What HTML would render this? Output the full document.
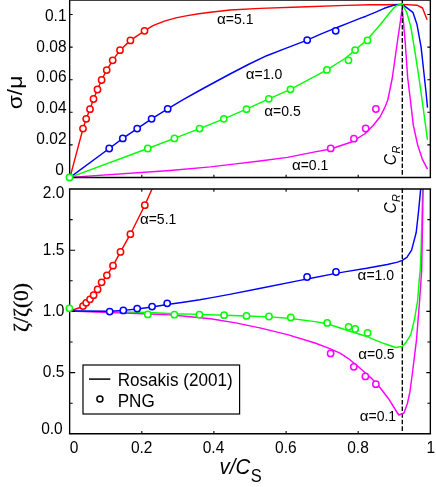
<!DOCTYPE html>
<html><head><meta charset="utf-8"><title>chart</title>
<style>html,body{margin:0;padding:0;background:#fff;}svg{display:block;will-change:transform;}</style></head>
<body>
<svg width="436" height="487" viewBox="0 0 436 487" font-family="'Liberation Sans', sans-serif" fill="#000">
<rect x="0" y="0" width="436" height="487" fill="#fff"/>
<defs><clipPath id="c1"><rect x="69.65" y="0.6" width="360.70000000000005" height="182.9"/></clipPath><clipPath id="c2"><rect x="69.65" y="188.95" width="360.70000000000005" height="244.90000000000003"/></clipPath></defs>
<g clip-path="url(#c1)">
<polyline points="70.0,177.4 170.0,170.5 210.5,166.9 235.7,163.9 260.0,161.0 287.5,157.4 315.0,151.9 330.7,149.0 350.8,142.3 364.6,134.0 372.9,125.8 380.0,117.0 385.0,107.1 387.8,100.0 392.3,78.0 397.5,41.0 400.5,20.5 402.2,8.0 405.1,41.0 407.7,78.0 410.4,100.0 413.3,125.2 417.8,145.5 422.3,159.1 427.5,169.2" fill="none" stroke="#ff00ff" stroke-width="1.45" stroke-linejoin="round"/>
<polyline points="70.0,177.4 83.0,128.6 86.2,118.8 90.0,109.2 93.5,99.0 97.5,89.5 101.6,80.0 106.7,70.1 112.7,60.3 120.0,50.2 130.4,40.4 144.5,30.8 152.9,25.7 164.4,21.1 175.9,17.9 187.3,15.6 198.8,13.8 210.3,12.2 230.0,10.0 260.0,8.4 300.0,7.0 346.0,5.4 370.0,4.8 386.0,4.8 402.3,4.4 417.0,5.2 422.5,8.0 427.1,19.7" fill="none" stroke="#ff0000" stroke-width="1.45" stroke-linejoin="round"/>
<polyline points="70.0,177.4 109.2,148.5 122.8,138.4 137.2,128.6 151.6,118.8 167.7,108.9 182.7,99.9 200.4,90.0 210.5,84.5 230.0,74.0 248.3,64.5 266.7,55.7 285.0,48.6 307.2,40.1 320.0,34.3 329.2,30.6 338.3,27.0 347.5,23.3 360.0,18.4 366.0,16.2 375.2,12.4 384.3,8.3 393.5,5.3 402.3,4.3 412.9,12.3 417.0,24.6 421.1,47.2 423.6,70.0 426.0,92.0 427.5,107.6" fill="none" stroke="#0000ff" stroke-width="1.45" stroke-linejoin="round"/>
<polyline points="70.0,177.4 147.8,148.5 174.4,138.4 199.6,128.6 223.8,118.8 246.5,109.2 268.8,98.8 290.5,89.3 326.9,69.9 345.0,58.5 355.1,50.1 367.6,39.3 370.6,35.8 379.8,25.2 388.9,13.8 394.4,7.3 397.7,5.0 402.3,4.4 406.7,12.3 410.8,26.7 414.9,51.3 419.0,78.0 422.1,100.0 427.5,139.9" fill="none" stroke="#00ff00" stroke-width="1.45" stroke-linejoin="round"/>
</g>
<line x1="402.3" y1="-1.5" x2="402.3" y2="174.8" stroke="#000" stroke-width="1.35" stroke-dasharray="4.6 2.0"/>
<line x1="402.3" y1="188.4" x2="402.3" y2="433.85" stroke="#000" stroke-width="1.35" stroke-dasharray="4.55 2.06"/>
<g clip-path="url(#c2)">
<polyline points="70.0,311.0 147.8,312.5 174.4,313.8 199.4,314.4 224.0,315.2 246.5,316.0 270.0,316.9 290.8,318.5 315.0,321.6 327.2,323.7 350.0,331.2 367.6,336.7 371.0,338.3 384.8,343.8 395.8,347.5 402.2,346.4 406.3,341.9 410.8,334.7 414.5,319.3 417.6,300.8 419.2,280.3 420.2,270.0 421.1,250.0 422.7,188.8" fill="none" stroke="#00ff00" stroke-width="1.45" stroke-linejoin="round"/>
<polyline points="70.0,311.0 170.0,314.9 185.2,316.2 210.5,318.7 235.7,322.9 260.9,328.1 287.5,334.6 315.0,343.0 329.8,348.6 340.0,353.2 348.0,358.3 356.1,364.8 364.1,371.7 372.1,378.9 380.1,387.7 388.2,398.2 396.2,411.0 398.8,415.0 404.0,413.0 407.4,403.5 409.9,392.0 411.5,380.0 412.8,370.0 416.5,339.8 419.6,300.8 421.7,270.0 423.1,188.8" fill="none" stroke="#ff00ff" stroke-width="1.45" stroke-linejoin="round"/>
<polyline points="70.0,311.0 109.7,311.3 123.3,310.4 137.2,309.0 152.1,307.0 167.2,304.5 185.2,302.0 199.8,299.8 210.5,297.9 229.6,294.4 259.4,288.5 300.0,280.4 307.1,279.0 336.0,273.4 346.0,271.6 366.6,268.3 387.3,264.5 397.6,262.1 402.2,260.4 406.9,257.3 411.6,250.1 416.2,232.5 418.7,209.8 420.7,188.8" fill="none" stroke="#0000ff" stroke-width="1.45" stroke-linejoin="round"/>
<polyline points="70.0,311.0 83.0,306.5 86.2,303.2 90.0,299.7 93.6,295.6 97.6,289.8 101.6,282.6 106.9,275.3 113.0,265.7 120.5,251.9 130.4,234.2 144.8,205.2 152.1,188.8" fill="none" stroke="#ff0000" stroke-width="1.45" stroke-linejoin="round"/>
</g>
<path d="M69.65 177.5H430.35M69.65 188.95H430.35M69.65 433.85H430.35" stroke="#000" stroke-width="1.5" fill="none" stroke-linecap="square"/>
<path d="M69.65 0.2H430.35" stroke="#000" stroke-width="1.2" fill="none" stroke-linecap="square"/>
<path d="M69.65 0V177.5M430.35 0V177.5M69.65 188.95V433.85M430.35 188.95V433.85" stroke="#000" stroke-width="1.35" fill="none"/>
<path d="M141.8 177.5v-2.8 M141.8 188.95v2.8 M141.8 433.85v-2.8 M213.9 177.5v-2.8 M213.9 188.95v2.8 M213.9 433.85v-2.8 M286.1 177.5v-2.8 M286.1 188.95v2.8 M286.1 433.85v-2.8 M358.2 177.5v-2.8 M358.2 188.95v2.8 M358.2 433.85v-2.8 M69.65 144.9h3 M430.35 144.9h-3 M69.65 112.3h3 M430.35 112.3h-3 M69.65 79.7h3 M430.35 79.7h-3 M69.65 47.1h3 M430.35 47.1h-3 M69.65 14.5h3 M430.35 14.5h-3 M69.65 403.2h3 M430.35 403.2h-3 M69.65 372.6h5.5 M430.35 372.6h-4 M69.65 342.0h3 M430.35 342.0h-3 M69.65 311.4h5.5 M430.35 311.4h-4 M69.65 280.8h3 M430.35 280.8h-3 M69.65 250.2h5.5 M430.35 250.2h-4 M69.65 219.6h3 M430.35 219.6h-3" stroke="#000" stroke-width="1.1" fill="none"/>
<circle cx="83.0" cy="128.6" r="3.15" fill="#fff" stroke="#ff0000" stroke-width="1.5"/><circle cx="86.2" cy="118.8" r="3.15" fill="#fff" stroke="#ff0000" stroke-width="1.5"/><circle cx="90.0" cy="109.2" r="3.15" fill="#fff" stroke="#ff0000" stroke-width="1.5"/><circle cx="93.5" cy="99.0" r="3.15" fill="#fff" stroke="#ff0000" stroke-width="1.5"/><circle cx="97.5" cy="89.5" r="3.15" fill="#fff" stroke="#ff0000" stroke-width="1.5"/><circle cx="101.6" cy="80.0" r="3.15" fill="#fff" stroke="#ff0000" stroke-width="1.5"/><circle cx="106.7" cy="70.1" r="3.15" fill="#fff" stroke="#ff0000" stroke-width="1.5"/><circle cx="112.7" cy="60.3" r="3.15" fill="#fff" stroke="#ff0000" stroke-width="1.5"/><circle cx="120.0" cy="50.2" r="3.15" fill="#fff" stroke="#ff0000" stroke-width="1.5"/><circle cx="130.4" cy="40.4" r="3.15" fill="#fff" stroke="#ff0000" stroke-width="1.5"/><circle cx="144.5" cy="30.8" r="3.15" fill="#fff" stroke="#ff0000" stroke-width="1.5"/>
<circle cx="109.2" cy="148.5" r="3.15" fill="#fff" stroke="#0000ff" stroke-width="1.5"/><circle cx="122.8" cy="138.4" r="3.15" fill="#fff" stroke="#0000ff" stroke-width="1.5"/><circle cx="137.2" cy="128.6" r="3.15" fill="#fff" stroke="#0000ff" stroke-width="1.5"/><circle cx="151.6" cy="118.8" r="3.15" fill="#fff" stroke="#0000ff" stroke-width="1.5"/><circle cx="167.7" cy="108.9" r="3.15" fill="#fff" stroke="#0000ff" stroke-width="1.5"/><circle cx="307.2" cy="40.1" r="3.15" fill="#fff" stroke="#0000ff" stroke-width="1.5"/><circle cx="335.7" cy="30.8" r="3.15" fill="#fff" stroke="#0000ff" stroke-width="1.5"/>
<circle cx="147.8" cy="148.5" r="3.15" fill="#fff" stroke="#00ff00" stroke-width="1.5"/><circle cx="174.4" cy="138.4" r="3.15" fill="#fff" stroke="#00ff00" stroke-width="1.5"/><circle cx="199.6" cy="128.6" r="3.15" fill="#fff" stroke="#00ff00" stroke-width="1.5"/><circle cx="223.8" cy="118.8" r="3.15" fill="#fff" stroke="#00ff00" stroke-width="1.5"/><circle cx="246.5" cy="109.2" r="3.15" fill="#fff" stroke="#00ff00" stroke-width="1.5"/><circle cx="268.8" cy="98.8" r="3.15" fill="#fff" stroke="#00ff00" stroke-width="1.5"/><circle cx="290.5" cy="89.3" r="3.15" fill="#fff" stroke="#00ff00" stroke-width="1.5"/><circle cx="326.9" cy="69.9" r="3.15" fill="#fff" stroke="#00ff00" stroke-width="1.5"/><circle cx="348.5" cy="60.3" r="3.15" fill="#fff" stroke="#00ff00" stroke-width="1.5"/><circle cx="355.1" cy="50.1" r="3.15" fill="#fff" stroke="#00ff00" stroke-width="1.5"/><circle cx="367.5" cy="40.4" r="3.15" fill="#fff" stroke="#00ff00" stroke-width="1.5"/>
<circle cx="330.7" cy="148.4" r="3.15" fill="#fff" stroke="#ff00ff" stroke-width="1.5"/><circle cx="353.9" cy="138.7" r="3.15" fill="#fff" stroke="#ff00ff" stroke-width="1.5"/><circle cx="365.7" cy="128.5" r="3.15" fill="#fff" stroke="#ff00ff" stroke-width="1.5"/><circle cx="375.9" cy="109.0" r="3.15" fill="#fff" stroke="#ff00ff" stroke-width="1.5"/>
<circle cx="69.5" cy="177.4" r="3.15" fill="#fff" stroke="#00ff00" stroke-width="1.5"/>
<circle cx="330.6" cy="353.4" r="3.15" fill="#fff" stroke="#ff00ff" stroke-width="1.5"/><circle cx="353.8" cy="366.8" r="3.15" fill="#fff" stroke="#ff00ff" stroke-width="1.5"/><circle cx="365.4" cy="376.4" r="3.15" fill="#fff" stroke="#ff00ff" stroke-width="1.5"/><circle cx="375.9" cy="384.2" r="3.15" fill="#fff" stroke="#ff00ff" stroke-width="1.5"/>
<circle cx="147.8" cy="314.4" r="3.15" fill="#fff" stroke="#00ff00" stroke-width="1.5"/><circle cx="174.4" cy="314.7" r="3.15" fill="#fff" stroke="#00ff00" stroke-width="1.5"/><circle cx="199.4" cy="314.7" r="3.15" fill="#fff" stroke="#00ff00" stroke-width="1.5"/><circle cx="224.1" cy="315.2" r="3.15" fill="#fff" stroke="#00ff00" stroke-width="1.5"/><circle cx="246.5" cy="315.9" r="3.15" fill="#fff" stroke="#00ff00" stroke-width="1.5"/><circle cx="269.0" cy="316.5" r="3.15" fill="#fff" stroke="#00ff00" stroke-width="1.5"/><circle cx="290.8" cy="317.4" r="3.15" fill="#fff" stroke="#00ff00" stroke-width="1.5"/><circle cx="327.2" cy="322.9" r="3.15" fill="#fff" stroke="#00ff00" stroke-width="1.5"/><circle cx="348.6" cy="326.8" r="3.15" fill="#fff" stroke="#00ff00" stroke-width="1.5"/><circle cx="355.2" cy="329.0" r="3.15" fill="#fff" stroke="#00ff00" stroke-width="1.5"/><circle cx="367.6" cy="332.9" r="3.15" fill="#fff" stroke="#00ff00" stroke-width="1.5"/>
<circle cx="109.7" cy="311.6" r="3.15" fill="#fff" stroke="#0000ff" stroke-width="1.5"/><circle cx="123.3" cy="310.4" r="3.15" fill="#fff" stroke="#0000ff" stroke-width="1.5"/><circle cx="137.2" cy="308.6" r="3.15" fill="#fff" stroke="#0000ff" stroke-width="1.5"/><circle cx="152.1" cy="306.6" r="3.15" fill="#fff" stroke="#0000ff" stroke-width="1.5"/><circle cx="167.2" cy="303.3" r="3.15" fill="#fff" stroke="#0000ff" stroke-width="1.5"/><circle cx="307.1" cy="277.0" r="3.15" fill="#fff" stroke="#0000ff" stroke-width="1.5"/><circle cx="336.0" cy="272.0" r="3.15" fill="#fff" stroke="#0000ff" stroke-width="1.5"/>
<circle cx="83.0" cy="306.1" r="3.15" fill="#fff" stroke="#ff0000" stroke-width="1.5"/><circle cx="86.2" cy="302.8" r="3.15" fill="#fff" stroke="#ff0000" stroke-width="1.5"/><circle cx="90.0" cy="299.3" r="3.15" fill="#fff" stroke="#ff0000" stroke-width="1.5"/><circle cx="93.6" cy="295.2" r="3.15" fill="#fff" stroke="#ff0000" stroke-width="1.5"/><circle cx="97.6" cy="289.4" r="3.15" fill="#fff" stroke="#ff0000" stroke-width="1.5"/><circle cx="101.6" cy="282.3" r="3.15" fill="#fff" stroke="#ff0000" stroke-width="1.5"/><circle cx="106.9" cy="275.3" r="3.15" fill="#fff" stroke="#ff0000" stroke-width="1.5"/><circle cx="113.0" cy="265.7" r="3.15" fill="#fff" stroke="#ff0000" stroke-width="1.5"/><circle cx="120.5" cy="251.9" r="3.15" fill="#fff" stroke="#ff0000" stroke-width="1.5"/><circle cx="130.4" cy="234.2" r="3.15" fill="#fff" stroke="#ff0000" stroke-width="1.5"/><circle cx="144.8" cy="205.2" r="3.15" fill="#fff" stroke="#ff0000" stroke-width="1.5"/>
<circle cx="69.4" cy="308.3" r="3.15" fill="#fff" stroke="#00ff00" stroke-width="1.5"/>
<text transform="translate(66.5 20.6) scale(0.935 1)" font-size="16.58" text-anchor="end">0.1</text>
<text transform="translate(66.5 51.8) scale(0.935 1)" font-size="16.58" text-anchor="end">0.08</text>
<text transform="translate(66.5 81.9) scale(0.935 1)" font-size="16.58" text-anchor="end">0.06</text>
<text transform="translate(66.5 112.8) scale(0.935 1)" font-size="16.58" text-anchor="end">0.04</text>
<text transform="translate(66.5 143.8) scale(0.935 1)" font-size="16.58" text-anchor="end">0.02</text>
<text transform="translate(64.0 174.6) scale(0.935 1)" font-size="16.58" text-anchor="end">0</text>
<text transform="translate(64.4 197.8) scale(0.935 1)" font-size="16.58" text-anchor="end">2.0</text>
<text transform="translate(64.4 255.0) scale(0.935 1)" font-size="16.58" text-anchor="end">1.5</text>
<text transform="translate(64.4 315.8) scale(0.935 1)" font-size="16.58" text-anchor="end">1.0</text>
<text transform="translate(64.4 377.3) scale(0.935 1)" font-size="16.58" text-anchor="end">0.5</text>
<text transform="translate(62.7 433.7) scale(0.935 1)" font-size="16.58" text-anchor="end">0.0</text>
<text transform="translate(74.0 452.6) scale(0.935 1)" font-size="16.58" text-anchor="middle">0</text>
<text transform="translate(141.7 452.6) scale(0.935 1)" font-size="16.58" text-anchor="middle">0.2</text>
<text transform="translate(213.5 452.6) scale(0.935 1)" font-size="16.58" text-anchor="middle">0.4</text>
<text transform="translate(285.8 452.6) scale(0.935 1)" font-size="16.58" text-anchor="middle">0.6</text>
<text transform="translate(358.0 452.6) scale(0.935 1)" font-size="16.58" text-anchor="middle">0.8</text>
<text transform="translate(430.8 452.6) scale(0.935 1)" font-size="16.58" text-anchor="middle">1</text>
<g font-size="14">
<text x="217.0" y="23.7"><tspan font-size="15.2">α</tspan>=5.1</text>
<text x="245.8" y="79.3"><tspan font-size="15.2">α</tspan>=1.0</text>
<text x="264.3" y="115.6"><tspan font-size="15.2">α</tspan>=0.5</text>
<text x="291.9" y="169.8"><tspan font-size="15.2">α</tspan>=0.1</text>
<text x="139.9" y="224.1"><tspan font-size="15.2">α</tspan>=5.1</text>
<text x="357.6" y="280.3"><tspan font-size="15.2">α</tspan>=1.0</text>
<text x="358.2" y="359.1"><tspan font-size="15.2">α</tspan>=0.5</text>
<text x="359.7" y="421.4"><tspan font-size="15.2">α</tspan>=0.1</text>
</g>
<g transform="translate(396.0 165.2) rotate(-90)" font-style="italic"><text x="0" y="0" font-size="15.5" transform="scale(1 1.12)">C</text><text x="11.6" y="3.8" font-size="10.8">R</text></g>
<g transform="translate(396.1 213.5) rotate(-90)" font-style="italic"><text x="0" y="0" font-size="15.5" transform="scale(1 1.12)">C</text><text x="11.6" y="3.8" font-size="10.8">R</text></g>
<rect x="83" y="365" width="156.6" height="49" fill="#fff" stroke="#000" stroke-width="1.2"/>
<line x1="89" y1="379.1" x2="110.3" y2="379.1" stroke="#000" stroke-width="1.5"/>
<circle cx="99.9" cy="398.9" r="3.0" fill="#fff" stroke="#000" stroke-width="1.5"/>
<text transform="translate(117.7 385.6) scale(0.935 1)" font-size="18.29" text-anchor="start">Rosakis (2001)</text>
<text transform="translate(117.7 406.9) scale(0.935 1)" font-size="18.29" text-anchor="start">PNG</text>
<text transform="translate(219.5 474.4) scale(0.935 1)" font-size="21.93" text-anchor="start" font-style="italic">v/C</text>
<text transform="translate(250.7 481.8) scale(0.935 1)" font-size="17.65" text-anchor="start">S</text>
<g transform="translate(21.8 109.3) rotate(-90) scale(1.09 1)"><text x="0" y="0" font-size="21">σ/μ</text></g>
<g transform="translate(27.7 332.0) rotate(-90)" font-family="'Liberation Serif', serif"><text x="0" y="0" font-size="21.6" stroke="#000" stroke-width="0.3">ζ/ζ(0)</text></g>
</svg>
</body></html>
